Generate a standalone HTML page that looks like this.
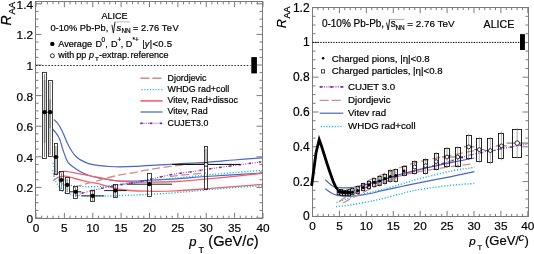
<!DOCTYPE html><html><head><meta charset="utf-8"><style>html,body{margin:0;padding:0;background:#fff;overflow:hidden}svg{display:block}text{font-family:"Liberation Sans",sans-serif} svg{will-change:transform;filter:blur(0.3px)} text{stroke:#000;stroke-width:0.2px}</style></head><body>
<svg width="534" height="254" viewBox="0 0 534 254">
<rect width="534" height="254" fill="#fff"/>
<rect x="35.5" y="1.5" width="227" height="217" fill="none" stroke="#7a7a7a" stroke-width="1"/>
<line x1="36" y1="218.5" x2="36" y2="212.8" stroke="#7a7a7a" stroke-width="1" />
<line x1="36" y1="1.5" x2="36" y2="7.2" stroke="#7a7a7a" stroke-width="1" />
<line x1="41.67" y1="218.5" x2="41.67" y2="215.7" stroke="#7a7a7a" stroke-width="1" />
<line x1="41.67" y1="1.5" x2="41.67" y2="4.3" stroke="#7a7a7a" stroke-width="1" />
<line x1="47.35" y1="218.5" x2="47.35" y2="215.7" stroke="#7a7a7a" stroke-width="1" />
<line x1="47.35" y1="1.5" x2="47.35" y2="4.3" stroke="#7a7a7a" stroke-width="1" />
<line x1="53.02" y1="218.5" x2="53.02" y2="215.7" stroke="#7a7a7a" stroke-width="1" />
<line x1="53.02" y1="1.5" x2="53.02" y2="4.3" stroke="#7a7a7a" stroke-width="1" />
<line x1="58.7" y1="218.5" x2="58.7" y2="215.7" stroke="#7a7a7a" stroke-width="1" />
<line x1="58.7" y1="1.5" x2="58.7" y2="4.3" stroke="#7a7a7a" stroke-width="1" />
<line x1="64.38" y1="218.5" x2="64.38" y2="212.8" stroke="#7a7a7a" stroke-width="1" />
<line x1="64.38" y1="1.5" x2="64.38" y2="7.2" stroke="#7a7a7a" stroke-width="1" />
<line x1="70.05" y1="218.5" x2="70.05" y2="215.7" stroke="#7a7a7a" stroke-width="1" />
<line x1="70.05" y1="1.5" x2="70.05" y2="4.3" stroke="#7a7a7a" stroke-width="1" />
<line x1="75.72" y1="218.5" x2="75.72" y2="215.7" stroke="#7a7a7a" stroke-width="1" />
<line x1="75.72" y1="1.5" x2="75.72" y2="4.3" stroke="#7a7a7a" stroke-width="1" />
<line x1="81.4" y1="218.5" x2="81.4" y2="215.7" stroke="#7a7a7a" stroke-width="1" />
<line x1="81.4" y1="1.5" x2="81.4" y2="4.3" stroke="#7a7a7a" stroke-width="1" />
<line x1="87.07" y1="218.5" x2="87.07" y2="215.7" stroke="#7a7a7a" stroke-width="1" />
<line x1="87.07" y1="1.5" x2="87.07" y2="4.3" stroke="#7a7a7a" stroke-width="1" />
<line x1="92.75" y1="218.5" x2="92.75" y2="212.8" stroke="#7a7a7a" stroke-width="1" />
<line x1="92.75" y1="1.5" x2="92.75" y2="7.2" stroke="#7a7a7a" stroke-width="1" />
<line x1="98.42" y1="218.5" x2="98.42" y2="215.7" stroke="#7a7a7a" stroke-width="1" />
<line x1="98.42" y1="1.5" x2="98.42" y2="4.3" stroke="#7a7a7a" stroke-width="1" />
<line x1="104.1" y1="218.5" x2="104.1" y2="215.7" stroke="#7a7a7a" stroke-width="1" />
<line x1="104.1" y1="1.5" x2="104.1" y2="4.3" stroke="#7a7a7a" stroke-width="1" />
<line x1="109.77" y1="218.5" x2="109.77" y2="215.7" stroke="#7a7a7a" stroke-width="1" />
<line x1="109.77" y1="1.5" x2="109.77" y2="4.3" stroke="#7a7a7a" stroke-width="1" />
<line x1="115.45" y1="218.5" x2="115.45" y2="215.7" stroke="#7a7a7a" stroke-width="1" />
<line x1="115.45" y1="1.5" x2="115.45" y2="4.3" stroke="#7a7a7a" stroke-width="1" />
<line x1="121.12" y1="218.5" x2="121.12" y2="212.8" stroke="#7a7a7a" stroke-width="1" />
<line x1="121.12" y1="1.5" x2="121.12" y2="7.2" stroke="#7a7a7a" stroke-width="1" />
<line x1="126.8" y1="218.5" x2="126.8" y2="215.7" stroke="#7a7a7a" stroke-width="1" />
<line x1="126.8" y1="1.5" x2="126.8" y2="4.3" stroke="#7a7a7a" stroke-width="1" />
<line x1="132.47" y1="218.5" x2="132.47" y2="215.7" stroke="#7a7a7a" stroke-width="1" />
<line x1="132.47" y1="1.5" x2="132.47" y2="4.3" stroke="#7a7a7a" stroke-width="1" />
<line x1="138.15" y1="218.5" x2="138.15" y2="215.7" stroke="#7a7a7a" stroke-width="1" />
<line x1="138.15" y1="1.5" x2="138.15" y2="4.3" stroke="#7a7a7a" stroke-width="1" />
<line x1="143.82" y1="218.5" x2="143.82" y2="215.7" stroke="#7a7a7a" stroke-width="1" />
<line x1="143.82" y1="1.5" x2="143.82" y2="4.3" stroke="#7a7a7a" stroke-width="1" />
<line x1="149.5" y1="218.5" x2="149.5" y2="212.8" stroke="#7a7a7a" stroke-width="1" />
<line x1="149.5" y1="1.5" x2="149.5" y2="7.2" stroke="#7a7a7a" stroke-width="1" />
<line x1="155.18" y1="218.5" x2="155.18" y2="215.7" stroke="#7a7a7a" stroke-width="1" />
<line x1="155.18" y1="1.5" x2="155.18" y2="4.3" stroke="#7a7a7a" stroke-width="1" />
<line x1="160.85" y1="218.5" x2="160.85" y2="215.7" stroke="#7a7a7a" stroke-width="1" />
<line x1="160.85" y1="1.5" x2="160.85" y2="4.3" stroke="#7a7a7a" stroke-width="1" />
<line x1="166.53" y1="218.5" x2="166.53" y2="215.7" stroke="#7a7a7a" stroke-width="1" />
<line x1="166.53" y1="1.5" x2="166.53" y2="4.3" stroke="#7a7a7a" stroke-width="1" />
<line x1="172.2" y1="218.5" x2="172.2" y2="215.7" stroke="#7a7a7a" stroke-width="1" />
<line x1="172.2" y1="1.5" x2="172.2" y2="4.3" stroke="#7a7a7a" stroke-width="1" />
<line x1="177.88" y1="218.5" x2="177.88" y2="212.8" stroke="#7a7a7a" stroke-width="1" />
<line x1="177.88" y1="1.5" x2="177.88" y2="7.2" stroke="#7a7a7a" stroke-width="1" />
<line x1="183.55" y1="218.5" x2="183.55" y2="215.7" stroke="#7a7a7a" stroke-width="1" />
<line x1="183.55" y1="1.5" x2="183.55" y2="4.3" stroke="#7a7a7a" stroke-width="1" />
<line x1="189.22" y1="218.5" x2="189.22" y2="215.7" stroke="#7a7a7a" stroke-width="1" />
<line x1="189.22" y1="1.5" x2="189.22" y2="4.3" stroke="#7a7a7a" stroke-width="1" />
<line x1="194.9" y1="218.5" x2="194.9" y2="215.7" stroke="#7a7a7a" stroke-width="1" />
<line x1="194.9" y1="1.5" x2="194.9" y2="4.3" stroke="#7a7a7a" stroke-width="1" />
<line x1="200.57" y1="218.5" x2="200.57" y2="215.7" stroke="#7a7a7a" stroke-width="1" />
<line x1="200.57" y1="1.5" x2="200.57" y2="4.3" stroke="#7a7a7a" stroke-width="1" />
<line x1="206.25" y1="218.5" x2="206.25" y2="212.8" stroke="#7a7a7a" stroke-width="1" />
<line x1="206.25" y1="1.5" x2="206.25" y2="7.2" stroke="#7a7a7a" stroke-width="1" />
<line x1="211.92" y1="218.5" x2="211.92" y2="215.7" stroke="#7a7a7a" stroke-width="1" />
<line x1="211.92" y1="1.5" x2="211.92" y2="4.3" stroke="#7a7a7a" stroke-width="1" />
<line x1="217.6" y1="218.5" x2="217.6" y2="215.7" stroke="#7a7a7a" stroke-width="1" />
<line x1="217.6" y1="1.5" x2="217.6" y2="4.3" stroke="#7a7a7a" stroke-width="1" />
<line x1="223.28" y1="218.5" x2="223.28" y2="215.7" stroke="#7a7a7a" stroke-width="1" />
<line x1="223.28" y1="1.5" x2="223.28" y2="4.3" stroke="#7a7a7a" stroke-width="1" />
<line x1="228.95" y1="218.5" x2="228.95" y2="215.7" stroke="#7a7a7a" stroke-width="1" />
<line x1="228.95" y1="1.5" x2="228.95" y2="4.3" stroke="#7a7a7a" stroke-width="1" />
<line x1="234.62" y1="218.5" x2="234.62" y2="212.8" stroke="#7a7a7a" stroke-width="1" />
<line x1="234.62" y1="1.5" x2="234.62" y2="7.2" stroke="#7a7a7a" stroke-width="1" />
<line x1="240.3" y1="218.5" x2="240.3" y2="215.7" stroke="#7a7a7a" stroke-width="1" />
<line x1="240.3" y1="1.5" x2="240.3" y2="4.3" stroke="#7a7a7a" stroke-width="1" />
<line x1="245.97" y1="218.5" x2="245.97" y2="215.7" stroke="#7a7a7a" stroke-width="1" />
<line x1="245.97" y1="1.5" x2="245.97" y2="4.3" stroke="#7a7a7a" stroke-width="1" />
<line x1="251.65" y1="218.5" x2="251.65" y2="215.7" stroke="#7a7a7a" stroke-width="1" />
<line x1="251.65" y1="1.5" x2="251.65" y2="4.3" stroke="#7a7a7a" stroke-width="1" />
<line x1="257.32" y1="218.5" x2="257.32" y2="215.7" stroke="#7a7a7a" stroke-width="1" />
<line x1="257.32" y1="1.5" x2="257.32" y2="4.3" stroke="#7a7a7a" stroke-width="1" />
<line x1="263" y1="218.5" x2="263" y2="212.8" stroke="#7a7a7a" stroke-width="1" />
<line x1="263" y1="1.5" x2="263" y2="7.2" stroke="#7a7a7a" stroke-width="1" />
<line x1="35.5" y1="218" x2="41.5" y2="218" stroke="#7a7a7a" stroke-width="1" />
<line x1="262.5" y1="218" x2="256.5" y2="218" stroke="#7a7a7a" stroke-width="1" />
<line x1="35.5" y1="210.35" x2="38.5" y2="210.35" stroke="#7a7a7a" stroke-width="1" />
<line x1="262.5" y1="210.35" x2="259.5" y2="210.35" stroke="#7a7a7a" stroke-width="1" />
<line x1="35.5" y1="202.7" x2="38.5" y2="202.7" stroke="#7a7a7a" stroke-width="1" />
<line x1="262.5" y1="202.7" x2="259.5" y2="202.7" stroke="#7a7a7a" stroke-width="1" />
<line x1="35.5" y1="195.05" x2="38.5" y2="195.05" stroke="#7a7a7a" stroke-width="1" />
<line x1="262.5" y1="195.05" x2="259.5" y2="195.05" stroke="#7a7a7a" stroke-width="1" />
<line x1="35.5" y1="187.4" x2="41.5" y2="187.4" stroke="#7a7a7a" stroke-width="1" />
<line x1="262.5" y1="187.4" x2="256.5" y2="187.4" stroke="#7a7a7a" stroke-width="1" />
<line x1="35.5" y1="179.75" x2="38.5" y2="179.75" stroke="#7a7a7a" stroke-width="1" />
<line x1="262.5" y1="179.75" x2="259.5" y2="179.75" stroke="#7a7a7a" stroke-width="1" />
<line x1="35.5" y1="172.1" x2="38.5" y2="172.1" stroke="#7a7a7a" stroke-width="1" />
<line x1="262.5" y1="172.1" x2="259.5" y2="172.1" stroke="#7a7a7a" stroke-width="1" />
<line x1="35.5" y1="164.45" x2="38.5" y2="164.45" stroke="#7a7a7a" stroke-width="1" />
<line x1="262.5" y1="164.45" x2="259.5" y2="164.45" stroke="#7a7a7a" stroke-width="1" />
<line x1="35.5" y1="156.8" x2="41.5" y2="156.8" stroke="#7a7a7a" stroke-width="1" />
<line x1="262.5" y1="156.8" x2="256.5" y2="156.8" stroke="#7a7a7a" stroke-width="1" />
<line x1="35.5" y1="149.15" x2="38.5" y2="149.15" stroke="#7a7a7a" stroke-width="1" />
<line x1="262.5" y1="149.15" x2="259.5" y2="149.15" stroke="#7a7a7a" stroke-width="1" />
<line x1="35.5" y1="141.5" x2="38.5" y2="141.5" stroke="#7a7a7a" stroke-width="1" />
<line x1="262.5" y1="141.5" x2="259.5" y2="141.5" stroke="#7a7a7a" stroke-width="1" />
<line x1="35.5" y1="133.85" x2="38.5" y2="133.85" stroke="#7a7a7a" stroke-width="1" />
<line x1="262.5" y1="133.85" x2="259.5" y2="133.85" stroke="#7a7a7a" stroke-width="1" />
<line x1="35.5" y1="126.2" x2="41.5" y2="126.2" stroke="#7a7a7a" stroke-width="1" />
<line x1="262.5" y1="126.2" x2="256.5" y2="126.2" stroke="#7a7a7a" stroke-width="1" />
<line x1="35.5" y1="118.55" x2="38.5" y2="118.55" stroke="#7a7a7a" stroke-width="1" />
<line x1="262.5" y1="118.55" x2="259.5" y2="118.55" stroke="#7a7a7a" stroke-width="1" />
<line x1="35.5" y1="110.9" x2="38.5" y2="110.9" stroke="#7a7a7a" stroke-width="1" />
<line x1="262.5" y1="110.9" x2="259.5" y2="110.9" stroke="#7a7a7a" stroke-width="1" />
<line x1="35.5" y1="103.25" x2="38.5" y2="103.25" stroke="#7a7a7a" stroke-width="1" />
<line x1="262.5" y1="103.25" x2="259.5" y2="103.25" stroke="#7a7a7a" stroke-width="1" />
<line x1="35.5" y1="95.6" x2="41.5" y2="95.6" stroke="#7a7a7a" stroke-width="1" />
<line x1="262.5" y1="95.6" x2="256.5" y2="95.6" stroke="#7a7a7a" stroke-width="1" />
<line x1="35.5" y1="87.95" x2="38.5" y2="87.95" stroke="#7a7a7a" stroke-width="1" />
<line x1="262.5" y1="87.95" x2="259.5" y2="87.95" stroke="#7a7a7a" stroke-width="1" />
<line x1="35.5" y1="80.3" x2="38.5" y2="80.3" stroke="#7a7a7a" stroke-width="1" />
<line x1="262.5" y1="80.3" x2="259.5" y2="80.3" stroke="#7a7a7a" stroke-width="1" />
<line x1="35.5" y1="72.65" x2="38.5" y2="72.65" stroke="#7a7a7a" stroke-width="1" />
<line x1="262.5" y1="72.65" x2="259.5" y2="72.65" stroke="#7a7a7a" stroke-width="1" />
<line x1="35.5" y1="65" x2="41.5" y2="65" stroke="#7a7a7a" stroke-width="1" />
<line x1="262.5" y1="65" x2="256.5" y2="65" stroke="#7a7a7a" stroke-width="1" />
<line x1="35.5" y1="57.35" x2="38.5" y2="57.35" stroke="#7a7a7a" stroke-width="1" />
<line x1="262.5" y1="57.35" x2="259.5" y2="57.35" stroke="#7a7a7a" stroke-width="1" />
<line x1="35.5" y1="49.7" x2="38.5" y2="49.7" stroke="#7a7a7a" stroke-width="1" />
<line x1="262.5" y1="49.7" x2="259.5" y2="49.7" stroke="#7a7a7a" stroke-width="1" />
<line x1="35.5" y1="42.05" x2="38.5" y2="42.05" stroke="#7a7a7a" stroke-width="1" />
<line x1="262.5" y1="42.05" x2="259.5" y2="42.05" stroke="#7a7a7a" stroke-width="1" />
<line x1="35.5" y1="34.4" x2="41.5" y2="34.4" stroke="#7a7a7a" stroke-width="1" />
<line x1="262.5" y1="34.4" x2="256.5" y2="34.4" stroke="#7a7a7a" stroke-width="1" />
<line x1="35.5" y1="26.75" x2="38.5" y2="26.75" stroke="#7a7a7a" stroke-width="1" />
<line x1="262.5" y1="26.75" x2="259.5" y2="26.75" stroke="#7a7a7a" stroke-width="1" />
<line x1="35.5" y1="19.1" x2="38.5" y2="19.1" stroke="#7a7a7a" stroke-width="1" />
<line x1="262.5" y1="19.1" x2="259.5" y2="19.1" stroke="#7a7a7a" stroke-width="1" />
<line x1="35.5" y1="11.45" x2="38.5" y2="11.45" stroke="#7a7a7a" stroke-width="1" />
<line x1="262.5" y1="11.45" x2="259.5" y2="11.45" stroke="#7a7a7a" stroke-width="1" />
<line x1="35.5" y1="3.8" x2="41.5" y2="3.8" stroke="#7a7a7a" stroke-width="1" />
<line x1="262.5" y1="3.8" x2="256.5" y2="3.8" stroke="#7a7a7a" stroke-width="1" />
<text x="33" y="222.9" font-size="11.8" text-anchor="end" fill="#000" >0</text>
<text x="33" y="192.3" font-size="11.8" text-anchor="end" fill="#000" >0.2</text>
<text x="33" y="161.7" font-size="11.8" text-anchor="end" fill="#000" >0.4</text>
<text x="33" y="131.1" font-size="11.8" text-anchor="end" fill="#000" >0.6</text>
<text x="33" y="100.5" font-size="11.8" text-anchor="end" fill="#000" >0.8</text>
<text x="33" y="69.9" font-size="11.8" text-anchor="end" fill="#000" >1</text>
<text x="33" y="39.3" font-size="11.8" text-anchor="end" fill="#000" >1.2</text>
<text x="33" y="8.7" font-size="11.8" text-anchor="end" fill="#000" >1.4</text>
<text x="36" y="231.6" font-size="11.8" text-anchor="middle" fill="#000" >0</text>
<text x="64.38" y="231.6" font-size="11.8" text-anchor="middle" fill="#000" >5</text>
<text x="92.75" y="231.6" font-size="11.8" text-anchor="middle" fill="#000" >10</text>
<text x="121.12" y="231.6" font-size="11.8" text-anchor="middle" fill="#000" >15</text>
<text x="149.5" y="231.6" font-size="11.8" text-anchor="middle" fill="#000" >20</text>
<text x="177.88" y="231.6" font-size="11.8" text-anchor="middle" fill="#000" >25</text>
<text x="206.25" y="231.6" font-size="11.8" text-anchor="middle" fill="#000" >30</text>
<text x="234.62" y="231.6" font-size="11.8" text-anchor="middle" fill="#000" >35</text>
<text x="263" y="231.6" font-size="11.8" text-anchor="middle" fill="#000" >40</text>
<text transform="translate(10.7,25.6) rotate(-90)" font-size="14" font-style="italic">R</text>
<text transform="translate(15.0,14.6) rotate(-90)" font-size="9.6">AA</text>
<text x="189.2" y="245.6" font-size="13" font-style="italic">p</text>
<text x="198.4" y="252.6" font-size="9">T</text>
<text x="208.3" y="246.0" font-size="14.6">(GeV/<tspan font-style="italic">c</tspan>)</text>
<line x1="36.0" y1="65.5" x2="250.5" y2="65.5" stroke="#000" stroke-width="1" stroke-dasharray="1.5,1.6" opacity="0.85"/>
<rect x="251.3" y="57.1" width="5.6" height="16.3" fill="#000"/>
<text x="101.4" y="19.2" font-size="9.0" text-anchor="start" fill="#000" >ALICE</text>
<text x="50.4" y="30.6" font-size="9.3" text-anchor="start" fill="#000" >0-10% Pb-Pb,</text>
<path d="M111.9,24.8 L113.4,33.1 L115.0,21.9" fill="none" stroke="#222" stroke-width="1.0"/>
<path d="M115.0,21.9 L130.1,21.9" fill="none" stroke="#999" stroke-width="0.7"/>
<text x="116.6" y="30.6" font-size="9.5" text-anchor="start" fill="#000" font-style="italic">s</text>
<text x="121.4" y="33.4" font-size="6.4" text-anchor="start" fill="#000" >NN</text>
<text x="133" y="30.6" font-size="9.3" text-anchor="start" fill="#000" >= 2.76 <tspan letter-spacing="0.45">TeV</tspan></text>
<circle cx="52.3" cy="43.9" r="2.2" fill="#000"/>
<circle cx="52.4" cy="55.8" r="2.0" fill="#fff" stroke="#000" stroke-width="0.8"/>
<text x="58.3" y="46.6" font-size="9.1" text-anchor="start" fill="#000" >Average</text>
<text x="95.5" y="46.6" font-size="9.1" text-anchor="start" fill="#000" >D</text>
<text x="101.6" y="41.6" font-size="6.4" text-anchor="start" fill="#000" >0</text>
<text x="105.2" y="46.6" font-size="9.1" text-anchor="start" fill="#000" >,</text>
<text x="110.9" y="46.6" font-size="9.1" text-anchor="start" fill="#000" >D</text>
<text x="117.4" y="41.6" font-size="6.4" text-anchor="start" fill="#000" >+</text>
<text x="120.8" y="46.6" font-size="9.1" text-anchor="start" fill="#000" >,</text>
<text x="125.7" y="46.6" font-size="9.1" text-anchor="start" fill="#000" >D</text>
<text x="132.6" y="41.8" font-size="6.4" text-anchor="start" fill="#000" >*+</text>
<text x="142.3" y="46.6" font-size="9.1" text-anchor="start" fill="#000" >|<tspan font-style="italic">y</tspan><tspan dx="0.6">|</tspan><tspan dx="0.2" letter-spacing="0.3" font-size="9.5">&lt;0.5</tspan></text>
<text x="58.3" y="58.2" font-size="9.0" text-anchor="start" fill="#000" >with</text>
<text x="76.3" y="58.2" font-size="9.0" text-anchor="start" fill="#000" >pp</text>
<text x="89" y="58.2" font-size="9.0" text-anchor="start" fill="#000" font-style="italic">p</text>
<text x="94.9" y="61.3" font-size="6.2" text-anchor="start" fill="#000" >T</text>
<text x="99.1" y="58.2" font-size="9.0" text-anchor="start" fill="#000" >-extrap.</text>
<text x="130.6" y="58.2" font-size="9.0" text-anchor="start" fill="#000" >reference</text>
<line x1="140.4" y1="78.3" x2="162.6" y2="78.3" stroke="#d08a8a" stroke-width="1.4" stroke-dasharray="9,3"/>
<line x1="141.5" y1="89.6" x2="162.6" y2="89.6" stroke="#2ab8d8" stroke-width="1.4" stroke-dasharray="1.2,1.6"/>
<line x1="140.4" y1="100.9" x2="162.6" y2="100.9" stroke="#f2606a" stroke-width="1.6" />
<line x1="140.4" y1="112" x2="162.6" y2="112" stroke="#4a66c2" stroke-width="1.2" />
<line x1="143.5" y1="123.3" x2="150" y2="123.3" stroke="#8a2aa8" stroke-width="1.1" stroke-dasharray="1,1.3"/>
<line x1="152.5" y1="123.3" x2="158.5" y2="123.3" stroke="#8a2aa8" stroke-width="0.7" opacity="0.6"/>
<rect x="140.2" y="122.4" width="2.6" height="1.8" fill="#8a2aa8"/>
<rect x="149.7" y="122.4" width="2.6" height="1.8" fill="#8a2aa8"/>
<rect x="159.6" y="122.4" width="2.6" height="1.8" fill="#8a2aa8"/>
<text x="167.6" y="80.8" font-size="8.85" text-anchor="start" fill="#000" >Djordjevic</text>
<text x="167.6" y="91.9" font-size="8.85" text-anchor="start" fill="#000" >WHDG rad+coll</text>
<text x="167.6" y="103" font-size="8.85" text-anchor="start" fill="#000" >Vitev, Rad+dissoc</text>
<text x="167.6" y="114.2" font-size="8.85" text-anchor="start" fill="#000" >Vitev, Rad</text>
<text x="167.6" y="125.5" font-size="8.85" text-anchor="start" fill="#000" >CUJET3.0</text>
<path d="M54,119.5 C54.42,119.92 55.57,120.87 56.5,122 C57.43,123.13 58.43,124.3 59.6,126.3 C60.77,128.3 62.18,131.12 63.5,134 C64.82,136.88 66.08,140.68 67.5,143.6 C68.92,146.52 70.58,149.35 72,151.5 C73.42,153.65 74.67,155.15 76,156.5 C77.33,157.85 77.77,158.37 80,159.6 C82.23,160.83 86.07,162.9 89.4,163.9 C92.73,164.9 96.57,165.17 100,165.6 C103.43,166.03 106.67,166.3 110,166.5 C113.33,166.7 115.83,166.82 120,166.8 C124.17,166.78 130.67,166.58 135,166.4 C139.33,166.22 139.17,166.1 146,165.7 C152.83,165.3 166,164.57 176,164 C186,163.43 196.33,162.97 206,162.3 C215.67,161.63 224.67,160.75 234,160 C243.33,159.25 257.33,158.17 262,157.8" fill="none" stroke="#4a66c2" stroke-width="1.2" />
<path d="M52.4,129 C53,129.67 54.8,131.33 56,133 C57.2,134.67 58.43,136.17 59.6,139 C60.77,141.83 61.82,146.5 63,150 C64.18,153.5 65.53,157.58 66.7,160 C67.87,162.42 68.68,163.18 70,164.5 C71.32,165.82 72.52,166.52 74.6,167.9 C76.68,169.28 79.72,171.42 82.5,172.8 C85.28,174.18 88.38,175.3 91.3,176.2 C94.22,177.1 96.88,177.57 100,178.2 C103.12,178.83 106.57,179.53 110,180 C113.43,180.47 116.43,180.83 120.6,181 C124.77,181.17 130.77,181.1 135,181 C139.23,180.9 139.17,180.77 146,180.4 C152.83,180.03 166,179.45 176,178.8 C186,178.15 191.67,177.47 206,176.5 C220.33,175.53 252.67,173.58 262,173" fill="none" stroke="#4a66c2" stroke-width="1.2" />
<path d="M53.3,175.5 C53.75,175.17 54.92,174.03 56,173.5 C57.08,172.97 58.33,172.67 59.8,172.3 C61.27,171.93 62.33,171.22 64.8,171.3 C67.27,171.38 70.5,172.07 74.6,172.8 C78.7,173.53 85.17,174.88 89.4,175.7 C93.63,176.52 94.9,176.77 100,177.7 C105.1,178.63 112.33,180.55 120,181.3 C127.67,182.05 136.67,182.17 146,182.2 C155.33,182.23 164.67,182.13 176,181.5 C187.33,180.87 199.67,179.75 214,178.4 C228.33,177.05 254,174.23 262,173.4" fill="none" stroke="#f2606a" stroke-width="1.3" />
<path d="M53,180.7 C53.82,180.2 55.93,178.45 57.9,177.7 C59.87,176.95 62.02,176.07 64.8,176.2 C67.58,176.33 70.5,177.52 74.6,178.5 C78.7,179.48 85.17,181.17 89.4,182.1 C93.63,183.03 94.9,182.87 100,184.1 C105.1,185.33 112.33,188.32 120,189.5 C127.67,190.68 136.67,190.98 146,191.2 C155.33,191.42 164.67,191.3 176,190.8 C187.33,190.3 199.67,189.28 214,188.2 C228.33,187.12 254,184.95 262,184.3" fill="none" stroke="#f2606a" stroke-width="1.3" />
<path d="M52.9,163 C53.25,164.17 54.15,167.5 55,170 C55.85,172.5 56.83,175.75 58,178 C59.17,180.25 60.07,182.28 62,183.5 C63.93,184.72 66.37,184.8 69.6,185.3 C72.83,185.8 77.17,186.27 81.4,186.5 C85.63,186.73 90.23,186.87 95,186.7 C99.77,186.53 104.17,186.07 110,185.5 C115.83,184.93 120,184.43 130,183.3 C140,182.17 156,180.2 170,178.7 C184,177.2 198.67,175.68 214,174.3 C229.33,172.92 254,171.05 262,170.4" fill="none" stroke="#2ab8d8" stroke-width="1.4" stroke-dasharray="1.2,1.7" />
<path d="M52.5,170 C52.9,171.57 54.12,177.07 54.9,179.4 C55.68,181.73 56.32,182.48 57.2,184 C58.08,185.52 59.07,187.17 60.2,188.5 C61.33,189.83 62.43,191.05 64,192 C65.57,192.95 67.48,193.63 69.6,194.2 C71.72,194.77 71.63,195.1 76.7,195.4 C81.77,195.7 92.78,195.97 100,196 C107.22,196.03 108.33,196.07 120,195.6 C131.67,195.13 154.33,194.27 170,193.2 C185.67,192.13 198.67,190.45 214,189.2 C229.33,187.95 254,186.28 262,185.7" fill="none" stroke="#2ab8d8" stroke-width="1.4" stroke-dasharray="1.2,1.7" />
<path d="M74,187.5 C75,187.17 76.33,186.55 80,185.5 C83.67,184.45 91.7,182.42 96,181.2 C100.3,179.98 101.7,179.27 105.8,178.2 C109.9,177.13 115.67,175.78 120.6,174.8 C125.53,173.82 131.17,173.07 135.4,172.3 C139.63,171.53 140.23,171.18 146,170.2 C151.77,169.22 162.67,167.37 170,166.4 C177.33,165.43 184,164.8 190,164.4 C196,164 203.33,164.07 206,164" fill="none" stroke="#d08a8a" stroke-width="1.3" stroke-dasharray="8,3.5" />
<path d="M170,176.5 C171.67,176.3 174.58,175.83 180,175.3 C185.42,174.77 198.17,173.68 202.5,173.3 C206.83,172.92 205.42,173.05 206,173" fill="none" stroke="#d08a8a" stroke-width="1.3" stroke-dasharray="8,3.5" />
<path d="M79.8,193.7 C83.08,192.88 92.8,190.28 99.5,188.8 C106.2,187.32 113.3,185.97 120,184.8 C126.7,183.63 131.37,183.47 139.7,181.8 C148.03,180.13 160.85,176.55 170,174.8 C179.15,173.05 187.27,172.4 194.6,171.3 C201.93,170.2 202.77,169.78 214,168.2 C225.23,166.62 254,162.87 262,161.8" fill="none" stroke="#8a2aa8" stroke-width="1.1" stroke-dasharray="0.9,1.5" />
<rect x="81.61" y="192.18" width="2.2" height="1.6" fill="#8a2aa8"/>
<rect x="91.32" y="189.76" width="2.2" height="1.6" fill="#8a2aa8"/>
<rect x="101.05" y="187.48" width="2.2" height="1.6" fill="#8a2aa8"/>
<rect x="110.86" y="185.57" width="2.2" height="1.6" fill="#8a2aa8"/>
<rect x="120.69" y="183.73" width="2.2" height="1.6" fill="#8a2aa8"/>
<rect x="130.58" y="182.22" width="2.2" height="1.6" fill="#8a2aa8"/>
<rect x="140.44" y="180.58" width="2.2" height="1.6" fill="#8a2aa8"/>
<rect x="150.18" y="178.32" width="2.2" height="1.6" fill="#8a2aa8"/>
<rect x="159.92" y="176.07" width="2.2" height="1.6" fill="#8a2aa8"/>
<rect x="169.68" y="173.89" width="2.2" height="1.6" fill="#8a2aa8"/>
<rect x="179.58" y="172.48" width="2.2" height="1.6" fill="#8a2aa8"/>
<rect x="189.48" y="171.07" width="2.2" height="1.6" fill="#8a2aa8"/>
<rect x="199.37" y="169.56" width="2.2" height="1.6" fill="#8a2aa8"/>
<rect x="209.24" y="167.98" width="2.2" height="1.6" fill="#8a2aa8"/>
<rect x="219.14" y="166.57" width="2.2" height="1.6" fill="#8a2aa8"/>
<rect x="229.05" y="165.25" width="2.2" height="1.6" fill="#8a2aa8"/>
<rect x="238.96" y="163.92" width="2.2" height="1.6" fill="#8a2aa8"/>
<rect x="248.88" y="162.6" width="2.2" height="1.6" fill="#8a2aa8"/>
<rect x="258.79" y="161.28" width="2.2" height="1.6" fill="#8a2aa8"/>
<rect x="43.6" y="80" width="2.0" height="63" fill="#c4c4c4"/>
<rect x="42.5" y="72.5" width="4" height="86" fill="none" stroke="#222" stroke-width="0.85"/>
<line x1="44.6" y1="74" x2="44.6" y2="157" stroke="#444" stroke-width="0.7" />
<line x1="42" y1="112.2" x2="47.35" y2="112.2" stroke="#222" stroke-width="1.0" />
<circle cx="44.6" cy="112.2" r="2.1" fill="#000"/>
<rect x="49.1" y="99.5" width="2.0" height="28.5" fill="#c4c4c4"/>
<rect x="48.5" y="80.5" width="4" height="76" fill="none" stroke="#222" stroke-width="0.85"/>
<line x1="50.1" y1="82" x2="50.1" y2="155" stroke="#444" stroke-width="0.7" />
<line x1="47.35" y1="112.2" x2="52.6" y2="112.2" stroke="#222" stroke-width="1.0" />
<circle cx="50.1" cy="112.2" r="2.1" fill="#000"/>
<rect x="54.5" y="143.5" width="3" height="31" fill="none" stroke="#222" stroke-width="0.85"/>
<line x1="55.9" y1="146" x2="55.9" y2="172" stroke="#444" stroke-width="0.7" />
<line x1="53" y1="157" x2="58.7" y2="157" stroke="#222" stroke-width="1.0" />
<circle cx="55.9" cy="157" r="2.1" fill="#000"/>
<rect x="59.5" y="171.5" width="4" height="19" fill="none" stroke="#222" stroke-width="0.85"/>
<line x1="61.4" y1="173" x2="61.4" y2="189" stroke="#444" stroke-width="0.7" />
<line x1="58.7" y1="180" x2="64.4" y2="180" stroke="#222" stroke-width="1.0" />
<circle cx="61.4" cy="180" r="2.1" fill="#000"/>
<rect x="65.5" y="177.5" width="4" height="16" fill="none" stroke="#222" stroke-width="0.85"/>
<line x1="67.2" y1="179" x2="67.2" y2="192" stroke="#444" stroke-width="0.7" />
<line x1="64.4" y1="184.9" x2="70.05" y2="184.9" stroke="#222" stroke-width="1.0" />
<circle cx="67.2" cy="184.9" r="2.1" fill="#000"/>
<rect x="73.5" y="186.5" width="4" height="12" fill="none" stroke="#222" stroke-width="0.85"/>
<line x1="75.7" y1="188" x2="75.7" y2="197" stroke="#444" stroke-width="0.7" />
<line x1="70.05" y1="191.8" x2="81.4" y2="191.8" stroke="#222" stroke-width="1.0" />
<circle cx="75.7" cy="191.8" r="2.1" fill="#000"/>
<rect x="90.5" y="190.5" width="4" height="11" fill="none" stroke="#222" stroke-width="0.85"/>
<line x1="92.7" y1="191" x2="92.7" y2="201" stroke="#444" stroke-width="0.7" />
<line x1="81.4" y1="195.9" x2="104.1" y2="195.9" stroke="#222" stroke-width="1.0" />
<circle cx="92.7" cy="195.9" r="2.1" fill="#000"/>
<rect x="113.5" y="184.5" width="4" height="13" fill="none" stroke="#222" stroke-width="0.85"/>
<line x1="115.3" y1="185" x2="115.3" y2="197" stroke="#444" stroke-width="0.7" />
<line x1="104.1" y1="190.6" x2="126.8" y2="190.6" stroke="#222" stroke-width="1.0" />
<circle cx="115.3" cy="190.6" r="2.1" fill="#000"/>
<rect x="147.5" y="173.5" width="4" height="23" fill="none" stroke="#222" stroke-width="0.85"/>
<line x1="126.8" y1="184.2" x2="172.2" y2="184.2" stroke="#222" stroke-width="1.0" />
<circle cx="149.4" cy="184.2" r="2.1" fill="#000"/>
<line x1="172.2" y1="164.4" x2="240.3" y2="164.4" stroke="#000" stroke-width="1.0" />
<rect x="205.3" y="148.5" width="1.4" height="13" fill="#a8a8a8"/>
<rect x="204.5" y="146.5" width="3" height="43" fill="none" stroke="#222" stroke-width="0.85"/>
<circle cx="206" cy="164.4" r="1.9" fill="#fff" stroke="#000" stroke-width="0.9"/>
<rect x="312.5" y="7.5" width="216" height="209" fill="none" stroke="#7a7a7a" stroke-width="1"/>
<line x1="312.5" y1="216.5" x2="312.5" y2="210.8" stroke="#7a7a7a" stroke-width="1" />
<line x1="312.5" y1="7.5" x2="312.5" y2="13.2" stroke="#7a7a7a" stroke-width="1" />
<line x1="317.88" y1="216.5" x2="317.88" y2="213.9" stroke="#7a7a7a" stroke-width="1" />
<line x1="317.88" y1="7.5" x2="317.88" y2="10.1" stroke="#7a7a7a" stroke-width="1" />
<line x1="323.27" y1="216.5" x2="323.27" y2="213.9" stroke="#7a7a7a" stroke-width="1" />
<line x1="323.27" y1="7.5" x2="323.27" y2="10.1" stroke="#7a7a7a" stroke-width="1" />
<line x1="328.65" y1="216.5" x2="328.65" y2="213.9" stroke="#7a7a7a" stroke-width="1" />
<line x1="328.65" y1="7.5" x2="328.65" y2="10.1" stroke="#7a7a7a" stroke-width="1" />
<line x1="334.03" y1="216.5" x2="334.03" y2="213.9" stroke="#7a7a7a" stroke-width="1" />
<line x1="334.03" y1="7.5" x2="334.03" y2="10.1" stroke="#7a7a7a" stroke-width="1" />
<line x1="339.42" y1="216.5" x2="339.42" y2="210.8" stroke="#7a7a7a" stroke-width="1" />
<line x1="339.42" y1="7.5" x2="339.42" y2="13.2" stroke="#7a7a7a" stroke-width="1" />
<line x1="344.8" y1="216.5" x2="344.8" y2="213.9" stroke="#7a7a7a" stroke-width="1" />
<line x1="344.8" y1="7.5" x2="344.8" y2="10.1" stroke="#7a7a7a" stroke-width="1" />
<line x1="350.18" y1="216.5" x2="350.18" y2="213.9" stroke="#7a7a7a" stroke-width="1" />
<line x1="350.18" y1="7.5" x2="350.18" y2="10.1" stroke="#7a7a7a" stroke-width="1" />
<line x1="355.56" y1="216.5" x2="355.56" y2="213.9" stroke="#7a7a7a" stroke-width="1" />
<line x1="355.56" y1="7.5" x2="355.56" y2="10.1" stroke="#7a7a7a" stroke-width="1" />
<line x1="360.95" y1="216.5" x2="360.95" y2="213.9" stroke="#7a7a7a" stroke-width="1" />
<line x1="360.95" y1="7.5" x2="360.95" y2="10.1" stroke="#7a7a7a" stroke-width="1" />
<line x1="366.33" y1="216.5" x2="366.33" y2="210.8" stroke="#7a7a7a" stroke-width="1" />
<line x1="366.33" y1="7.5" x2="366.33" y2="13.2" stroke="#7a7a7a" stroke-width="1" />
<line x1="371.71" y1="216.5" x2="371.71" y2="213.9" stroke="#7a7a7a" stroke-width="1" />
<line x1="371.71" y1="7.5" x2="371.71" y2="10.1" stroke="#7a7a7a" stroke-width="1" />
<line x1="377.1" y1="216.5" x2="377.1" y2="213.9" stroke="#7a7a7a" stroke-width="1" />
<line x1="377.1" y1="7.5" x2="377.1" y2="10.1" stroke="#7a7a7a" stroke-width="1" />
<line x1="382.48" y1="216.5" x2="382.48" y2="213.9" stroke="#7a7a7a" stroke-width="1" />
<line x1="382.48" y1="7.5" x2="382.48" y2="10.1" stroke="#7a7a7a" stroke-width="1" />
<line x1="387.86" y1="216.5" x2="387.86" y2="213.9" stroke="#7a7a7a" stroke-width="1" />
<line x1="387.86" y1="7.5" x2="387.86" y2="10.1" stroke="#7a7a7a" stroke-width="1" />
<line x1="393.25" y1="216.5" x2="393.25" y2="210.8" stroke="#7a7a7a" stroke-width="1" />
<line x1="393.25" y1="7.5" x2="393.25" y2="13.2" stroke="#7a7a7a" stroke-width="1" />
<line x1="398.63" y1="216.5" x2="398.63" y2="213.9" stroke="#7a7a7a" stroke-width="1" />
<line x1="398.63" y1="7.5" x2="398.63" y2="10.1" stroke="#7a7a7a" stroke-width="1" />
<line x1="404.01" y1="216.5" x2="404.01" y2="213.9" stroke="#7a7a7a" stroke-width="1" />
<line x1="404.01" y1="7.5" x2="404.01" y2="10.1" stroke="#7a7a7a" stroke-width="1" />
<line x1="409.39" y1="216.5" x2="409.39" y2="213.9" stroke="#7a7a7a" stroke-width="1" />
<line x1="409.39" y1="7.5" x2="409.39" y2="10.1" stroke="#7a7a7a" stroke-width="1" />
<line x1="414.78" y1="216.5" x2="414.78" y2="213.9" stroke="#7a7a7a" stroke-width="1" />
<line x1="414.78" y1="7.5" x2="414.78" y2="10.1" stroke="#7a7a7a" stroke-width="1" />
<line x1="420.16" y1="216.5" x2="420.16" y2="210.8" stroke="#7a7a7a" stroke-width="1" />
<line x1="420.16" y1="7.5" x2="420.16" y2="13.2" stroke="#7a7a7a" stroke-width="1" />
<line x1="425.54" y1="216.5" x2="425.54" y2="213.9" stroke="#7a7a7a" stroke-width="1" />
<line x1="425.54" y1="7.5" x2="425.54" y2="10.1" stroke="#7a7a7a" stroke-width="1" />
<line x1="430.93" y1="216.5" x2="430.93" y2="213.9" stroke="#7a7a7a" stroke-width="1" />
<line x1="430.93" y1="7.5" x2="430.93" y2="10.1" stroke="#7a7a7a" stroke-width="1" />
<line x1="436.31" y1="216.5" x2="436.31" y2="213.9" stroke="#7a7a7a" stroke-width="1" />
<line x1="436.31" y1="7.5" x2="436.31" y2="10.1" stroke="#7a7a7a" stroke-width="1" />
<line x1="441.69" y1="216.5" x2="441.69" y2="213.9" stroke="#7a7a7a" stroke-width="1" />
<line x1="441.69" y1="7.5" x2="441.69" y2="10.1" stroke="#7a7a7a" stroke-width="1" />
<line x1="447.07" y1="216.5" x2="447.07" y2="210.8" stroke="#7a7a7a" stroke-width="1" />
<line x1="447.07" y1="7.5" x2="447.07" y2="13.2" stroke="#7a7a7a" stroke-width="1" />
<line x1="452.46" y1="216.5" x2="452.46" y2="213.9" stroke="#7a7a7a" stroke-width="1" />
<line x1="452.46" y1="7.5" x2="452.46" y2="10.1" stroke="#7a7a7a" stroke-width="1" />
<line x1="457.84" y1="216.5" x2="457.84" y2="213.9" stroke="#7a7a7a" stroke-width="1" />
<line x1="457.84" y1="7.5" x2="457.84" y2="10.1" stroke="#7a7a7a" stroke-width="1" />
<line x1="463.22" y1="216.5" x2="463.22" y2="213.9" stroke="#7a7a7a" stroke-width="1" />
<line x1="463.22" y1="7.5" x2="463.22" y2="10.1" stroke="#7a7a7a" stroke-width="1" />
<line x1="468.61" y1="216.5" x2="468.61" y2="213.9" stroke="#7a7a7a" stroke-width="1" />
<line x1="468.61" y1="7.5" x2="468.61" y2="10.1" stroke="#7a7a7a" stroke-width="1" />
<line x1="473.99" y1="216.5" x2="473.99" y2="210.8" stroke="#7a7a7a" stroke-width="1" />
<line x1="473.99" y1="7.5" x2="473.99" y2="13.2" stroke="#7a7a7a" stroke-width="1" />
<line x1="479.37" y1="216.5" x2="479.37" y2="213.9" stroke="#7a7a7a" stroke-width="1" />
<line x1="479.37" y1="7.5" x2="479.37" y2="10.1" stroke="#7a7a7a" stroke-width="1" />
<line x1="484.76" y1="216.5" x2="484.76" y2="213.9" stroke="#7a7a7a" stroke-width="1" />
<line x1="484.76" y1="7.5" x2="484.76" y2="10.1" stroke="#7a7a7a" stroke-width="1" />
<line x1="490.14" y1="216.5" x2="490.14" y2="213.9" stroke="#7a7a7a" stroke-width="1" />
<line x1="490.14" y1="7.5" x2="490.14" y2="10.1" stroke="#7a7a7a" stroke-width="1" />
<line x1="495.52" y1="216.5" x2="495.52" y2="213.9" stroke="#7a7a7a" stroke-width="1" />
<line x1="495.52" y1="7.5" x2="495.52" y2="10.1" stroke="#7a7a7a" stroke-width="1" />
<line x1="500.9" y1="216.5" x2="500.9" y2="210.8" stroke="#7a7a7a" stroke-width="1" />
<line x1="500.9" y1="7.5" x2="500.9" y2="13.2" stroke="#7a7a7a" stroke-width="1" />
<line x1="506.29" y1="216.5" x2="506.29" y2="213.9" stroke="#7a7a7a" stroke-width="1" />
<line x1="506.29" y1="7.5" x2="506.29" y2="10.1" stroke="#7a7a7a" stroke-width="1" />
<line x1="511.67" y1="216.5" x2="511.67" y2="213.9" stroke="#7a7a7a" stroke-width="1" />
<line x1="511.67" y1="7.5" x2="511.67" y2="10.1" stroke="#7a7a7a" stroke-width="1" />
<line x1="517.05" y1="216.5" x2="517.05" y2="213.9" stroke="#7a7a7a" stroke-width="1" />
<line x1="517.05" y1="7.5" x2="517.05" y2="10.1" stroke="#7a7a7a" stroke-width="1" />
<line x1="522.44" y1="216.5" x2="522.44" y2="213.9" stroke="#7a7a7a" stroke-width="1" />
<line x1="522.44" y1="7.5" x2="522.44" y2="10.1" stroke="#7a7a7a" stroke-width="1" />
<line x1="527.82" y1="216.5" x2="527.82" y2="210.8" stroke="#7a7a7a" stroke-width="1" />
<line x1="527.82" y1="7.5" x2="527.82" y2="13.2" stroke="#7a7a7a" stroke-width="1" />
<line x1="312.5" y1="216.4" x2="318.5" y2="216.4" stroke="#7a7a7a" stroke-width="1" />
<line x1="528.5" y1="216.4" x2="522.5" y2="216.4" stroke="#7a7a7a" stroke-width="1" />
<line x1="312.5" y1="207.7" x2="315.5" y2="207.7" stroke="#7a7a7a" stroke-width="1" />
<line x1="528.5" y1="207.7" x2="525.5" y2="207.7" stroke="#7a7a7a" stroke-width="1" />
<line x1="312.5" y1="199" x2="315.5" y2="199" stroke="#7a7a7a" stroke-width="1" />
<line x1="528.5" y1="199" x2="525.5" y2="199" stroke="#7a7a7a" stroke-width="1" />
<line x1="312.5" y1="190.3" x2="315.5" y2="190.3" stroke="#7a7a7a" stroke-width="1" />
<line x1="528.5" y1="190.3" x2="525.5" y2="190.3" stroke="#7a7a7a" stroke-width="1" />
<line x1="312.5" y1="181.6" x2="318.5" y2="181.6" stroke="#7a7a7a" stroke-width="1" />
<line x1="528.5" y1="181.6" x2="522.5" y2="181.6" stroke="#7a7a7a" stroke-width="1" />
<line x1="312.5" y1="172.9" x2="315.5" y2="172.9" stroke="#7a7a7a" stroke-width="1" />
<line x1="528.5" y1="172.9" x2="525.5" y2="172.9" stroke="#7a7a7a" stroke-width="1" />
<line x1="312.5" y1="164.2" x2="315.5" y2="164.2" stroke="#7a7a7a" stroke-width="1" />
<line x1="528.5" y1="164.2" x2="525.5" y2="164.2" stroke="#7a7a7a" stroke-width="1" />
<line x1="312.5" y1="155.5" x2="315.5" y2="155.5" stroke="#7a7a7a" stroke-width="1" />
<line x1="528.5" y1="155.5" x2="525.5" y2="155.5" stroke="#7a7a7a" stroke-width="1" />
<line x1="312.5" y1="146.8" x2="318.5" y2="146.8" stroke="#7a7a7a" stroke-width="1" />
<line x1="528.5" y1="146.8" x2="522.5" y2="146.8" stroke="#7a7a7a" stroke-width="1" />
<line x1="312.5" y1="138.1" x2="315.5" y2="138.1" stroke="#7a7a7a" stroke-width="1" />
<line x1="528.5" y1="138.1" x2="525.5" y2="138.1" stroke="#7a7a7a" stroke-width="1" />
<line x1="312.5" y1="129.4" x2="315.5" y2="129.4" stroke="#7a7a7a" stroke-width="1" />
<line x1="528.5" y1="129.4" x2="525.5" y2="129.4" stroke="#7a7a7a" stroke-width="1" />
<line x1="312.5" y1="120.7" x2="315.5" y2="120.7" stroke="#7a7a7a" stroke-width="1" />
<line x1="528.5" y1="120.7" x2="525.5" y2="120.7" stroke="#7a7a7a" stroke-width="1" />
<line x1="312.5" y1="112" x2="318.5" y2="112" stroke="#7a7a7a" stroke-width="1" />
<line x1="528.5" y1="112" x2="522.5" y2="112" stroke="#7a7a7a" stroke-width="1" />
<line x1="312.5" y1="103.3" x2="315.5" y2="103.3" stroke="#7a7a7a" stroke-width="1" />
<line x1="528.5" y1="103.3" x2="525.5" y2="103.3" stroke="#7a7a7a" stroke-width="1" />
<line x1="312.5" y1="94.6" x2="315.5" y2="94.6" stroke="#7a7a7a" stroke-width="1" />
<line x1="528.5" y1="94.6" x2="525.5" y2="94.6" stroke="#7a7a7a" stroke-width="1" />
<line x1="312.5" y1="85.9" x2="315.5" y2="85.9" stroke="#7a7a7a" stroke-width="1" />
<line x1="528.5" y1="85.9" x2="525.5" y2="85.9" stroke="#7a7a7a" stroke-width="1" />
<line x1="312.5" y1="77.2" x2="318.5" y2="77.2" stroke="#7a7a7a" stroke-width="1" />
<line x1="528.5" y1="77.2" x2="522.5" y2="77.2" stroke="#7a7a7a" stroke-width="1" />
<line x1="312.5" y1="68.5" x2="315.5" y2="68.5" stroke="#7a7a7a" stroke-width="1" />
<line x1="528.5" y1="68.5" x2="525.5" y2="68.5" stroke="#7a7a7a" stroke-width="1" />
<line x1="312.5" y1="59.8" x2="315.5" y2="59.8" stroke="#7a7a7a" stroke-width="1" />
<line x1="528.5" y1="59.8" x2="525.5" y2="59.8" stroke="#7a7a7a" stroke-width="1" />
<line x1="312.5" y1="51.1" x2="315.5" y2="51.1" stroke="#7a7a7a" stroke-width="1" />
<line x1="528.5" y1="51.1" x2="525.5" y2="51.1" stroke="#7a7a7a" stroke-width="1" />
<line x1="312.5" y1="42.4" x2="318.5" y2="42.4" stroke="#7a7a7a" stroke-width="1" />
<line x1="528.5" y1="42.4" x2="522.5" y2="42.4" stroke="#7a7a7a" stroke-width="1" />
<line x1="312.5" y1="33.7" x2="315.5" y2="33.7" stroke="#7a7a7a" stroke-width="1" />
<line x1="528.5" y1="33.7" x2="525.5" y2="33.7" stroke="#7a7a7a" stroke-width="1" />
<line x1="312.5" y1="25" x2="315.5" y2="25" stroke="#7a7a7a" stroke-width="1" />
<line x1="528.5" y1="25" x2="525.5" y2="25" stroke="#7a7a7a" stroke-width="1" />
<line x1="312.5" y1="16.3" x2="315.5" y2="16.3" stroke="#7a7a7a" stroke-width="1" />
<line x1="528.5" y1="16.3" x2="525.5" y2="16.3" stroke="#7a7a7a" stroke-width="1" />
<line x1="312.5" y1="7.6" x2="318.5" y2="7.6" stroke="#7a7a7a" stroke-width="1" />
<line x1="528.5" y1="7.6" x2="522.5" y2="7.6" stroke="#7a7a7a" stroke-width="1" />
<text x="309.6" y="220.4" font-size="12.0" text-anchor="end" fill="#000" >0</text>
<text x="309.6" y="185.6" font-size="12.0" text-anchor="end" fill="#000" >0.2</text>
<text x="309.6" y="150.8" font-size="12.0" text-anchor="end" fill="#000" >0.4</text>
<text x="309.6" y="116" font-size="12.0" text-anchor="end" fill="#000" >0.6</text>
<text x="309.6" y="81.2" font-size="12.0" text-anchor="end" fill="#000" >0.8</text>
<text x="309.6" y="46.4" font-size="12.0" text-anchor="end" fill="#000" >1</text>
<text x="309.6" y="11.6" font-size="12.0" text-anchor="end" fill="#000" >1.2</text>
<text x="312.5" y="230" font-size="11.8" text-anchor="middle" fill="#000" >0</text>
<text x="339.42" y="230" font-size="11.8" text-anchor="middle" fill="#000" >5</text>
<text x="366.33" y="230" font-size="11.8" text-anchor="middle" fill="#000" >10</text>
<text x="393.25" y="230" font-size="11.8" text-anchor="middle" fill="#000" >15</text>
<text x="420.16" y="230" font-size="11.8" text-anchor="middle" fill="#000" >20</text>
<text x="447.07" y="230" font-size="11.8" text-anchor="middle" fill="#000" >25</text>
<text x="473.99" y="230" font-size="11.8" text-anchor="middle" fill="#000" >30</text>
<text x="500.9" y="230" font-size="11.8" text-anchor="middle" fill="#000" >35</text>
<text x="527.82" y="230" font-size="11.8" text-anchor="middle" fill="#000" >40</text>
<text transform="translate(285.7,28.0) rotate(-90)" font-size="12.2" font-style="italic">R</text>
<text transform="translate(290.0,18.4) rotate(-90)" font-size="9">AA</text>
<text x="469.3" y="245" font-size="11.5" font-style="italic">p</text>
<text x="477.6" y="249.6" font-size="7.6">T</text>
<text x="485.0" y="245.2" font-size="13">(GeV/</text>
<text x="518.6" y="241.0" font-size="11.5" font-style="italic">c</text>
<text x="524.6" y="245.2" font-size="13">)</text>
<line x1="312.5" y1="42.4" x2="519.5" y2="42.4" stroke="#000" stroke-width="1" stroke-dasharray="1.4,1.2"/>
<rect x="520" y="34.1" width="4.9" height="15.9" fill="#000"/>
<text x="321.9" y="27.3" font-size="10.0" text-anchor="start" fill="#000" >0-10% Pb-Pb,</text>
<path d="M386.5,22.6 L388.3,30.0 L389.6,19.4" fill="none" stroke="#222" stroke-width="1.0"/>
<path d="M389.6,19.4 L404.0,19.4" fill="none" stroke="#888" stroke-width="0.7"/>
<text x="390.8" y="27.3" font-size="10.0" text-anchor="start" fill="#000" >s</text>
<text x="395.4" y="30" font-size="6.4" text-anchor="start" fill="#000" >NN</text>
<text x="407.3" y="27.3" font-size="9.9" text-anchor="start" fill="#000" >= 2.76 TeV</text>
<text x="483.6" y="27.6" font-size="10.6" text-anchor="start" fill="#000" >ALICE</text>
<circle cx="323.1" cy="58.3" r="1.3" fill="#000"/>
<rect x="321.5" y="69.8" width="3.2" height="3.2" fill="none" stroke="#000" stroke-width="0.7"/>
<text x="331.8" y="62.1" font-size="9.7" text-anchor="start" fill="#000" >Charged pions, |η|&lt;0.8</text>
<text x="331.8" y="74.3" font-size="9.7" text-anchor="start" fill="#000" >Charged particles, |η|&lt;0.8</text>
<line x1="321.7" y1="86.9" x2="341.3" y2="86.9" stroke="#8a2aa8" stroke-width="1.1" stroke-dasharray="1,1.3"/>
<rect x="319.59999999999997" y="86.0" width="2.6" height="1.8" fill="#8a2aa8"/>
<rect x="330.2" y="86.0" width="2.6" height="1.8" fill="#8a2aa8"/>
<rect x="340.8" y="86.0" width="2.6" height="1.8" fill="#8a2aa8"/>
<line x1="319.7" y1="100.3" x2="343.3" y2="100.3" stroke="#d08a8a" stroke-width="1.3" stroke-dasharray="9,3"/>
<line x1="319.7" y1="113.2" x2="343.3" y2="113.2" stroke="#4a66c2" stroke-width="1.2" />
<line x1="320.7" y1="126.5" x2="343.3" y2="126.5" stroke="#2ab8d8" stroke-width="1.4" stroke-dasharray="1.2,1.6"/>
<text x="348" y="89.8" font-size="9.7" text-anchor="start" fill="#000" >CUJET 3.0</text>
<text x="348" y="103.1" font-size="9.7" text-anchor="start" fill="#000" >Djordjevic</text>
<text x="348" y="116" font-size="9.7" text-anchor="start" fill="#000" >Vitev rad</text>
<text x="348" y="129.3" font-size="9.7" text-anchor="start" fill="#000" >WHDG rad+coll</text>
<path d="M325.3,179.6 C326.38,180.57 329.73,184.08 331.8,185.4 C333.87,186.72 334.75,187.12 337.7,187.5 C340.65,187.88 345.57,188.03 349.5,187.7 C353.43,187.37 357.37,186.35 361.3,185.5 C365.23,184.65 369.15,183.63 373.1,182.6 C377.05,181.57 380.27,180.73 385,179.3 C389.73,177.87 395.67,175.67 401.5,174 C407.33,172.33 413.58,170.83 420,169.3 C426.42,167.77 430.93,166.68 440,164.8 C449.07,162.92 468.67,159.13 474.4,158" fill="none" stroke="#4a66c2" stroke-width="1.2" />
<path d="M325.3,188.8 C326.38,189.53 329.73,192.1 331.8,193.2 C333.87,194.3 334.75,194.88 337.7,195.4 C340.65,195.92 345.57,196.33 349.5,196.3 C353.43,196.27 357.37,195.75 361.3,195.2 C365.23,194.65 369.65,193.75 373.1,193 C376.55,192.25 377.27,191.78 382,190.7 C386.73,189.62 395.17,187.83 401.5,186.5 C407.83,185.17 411.92,184.32 420,182.7 C428.08,181.08 440.93,178.63 450,176.8 C459.07,174.97 470.33,172.55 474.4,171.7" fill="none" stroke="#4a66c2" stroke-width="1.2" />
<path d="M336.5,202.6 C337.98,202.07 342.22,200.5 345.4,199.4 C348.58,198.3 352.17,197.03 355.6,196 C359.03,194.97 361.93,194.18 366,193.2 C370.07,192.22 374.33,191.55 380,190.1 C385.67,188.65 393.8,186.3 400,184.5 C406.2,182.7 408.87,181.5 417.2,179.3 C425.53,177.1 440.47,173.3 450,171.3 C459.53,169.3 470.33,167.97 474.4,167.3" fill="none" stroke="#2ab8d8" stroke-width="1.4" stroke-dasharray="1.2,1.7" />
<path d="M336,206.6 C338.33,206.33 343.22,206.1 350,205 C356.78,203.9 368.37,201.83 376.7,200 C385.03,198.17 393.25,195.67 400,194 C406.75,192.33 408.87,191.43 417.2,190 C425.53,188.57 440.47,186.48 450,185.4 C459.53,184.32 470.33,183.82 474.4,183.5" fill="none" stroke="#2ab8d8" stroke-width="1.4" stroke-dasharray="1.2,1.7" />
<path d="M339.3,201.4 C340.58,200.5 344.38,197.9 347,196 C349.62,194.1 352.5,191.9 355,190 C357.5,188.1 359.67,186.2 362,184.6 C364.33,183 366,181.92 369,180.4 C372,178.88 374.83,177.63 380,175.5 C385.17,173.37 393.33,169.92 400,167.6 C406.67,165.28 412.33,163.48 420,161.6 C427.67,159.72 436.95,158.15 446,156.3 C455.05,154.45 469.58,151.47 474.3,150.5" fill="none" stroke="#d08a8a" stroke-width="1.3" stroke-dasharray="8,3.5" />
<path d="M343,203 C345,201.92 351,198.58 355,196.5 C359,194.42 362.83,192.5 367,190.5 C371.17,188.5 374.5,186.92 380,184.5 C385.5,182.08 393.33,178.17 400,176 C406.67,173.83 412.33,172.93 420,171.5 C427.67,170.07 436.95,168.72 446,167.4 C455.05,166.08 469.58,164.23 474.3,163.6" fill="none" stroke="#d08a8a" stroke-width="1.3" stroke-dasharray="8,3.5" />
<path d="M355,193 C359.17,191 370.83,184.5 380,181 C389.17,177.5 400,174.77 410,172 C420,169.23 430,167.23 440,164.4 C450,161.57 460,157.57 470,155 C480,152.43 490.33,150.83 500,149 C509.67,147.17 523.33,144.83 528,144" fill="none" stroke="#8a2aa8" stroke-width="1.1" stroke-dasharray="0.9,1.5" />
<rect x="356.6" y="190.9" width="2.2" height="1.6" fill="#8a2aa8"/>
<rect x="365.62" y="186.57" width="2.2" height="1.6" fill="#8a2aa8"/>
<rect x="374.64" y="182.25" width="2.2" height="1.6" fill="#8a2aa8"/>
<rect x="383.95" y="178.69" width="2.2" height="1.6" fill="#8a2aa8"/>
<rect x="393.53" y="175.81" width="2.2" height="1.6" fill="#8a2aa8"/>
<rect x="403.1" y="172.94" width="2.2" height="1.6" fill="#8a2aa8"/>
<rect x="412.73" y="170.23" width="2.2" height="1.6" fill="#8a2aa8"/>
<rect x="422.42" y="167.77" width="2.2" height="1.6" fill="#8a2aa8"/>
<rect x="432.11" y="165.32" width="2.2" height="1.6" fill="#8a2aa8"/>
<rect x="441.76" y="162.7" width="2.2" height="1.6" fill="#8a2aa8"/>
<rect x="451.31" y="159.71" width="2.2" height="1.6" fill="#8a2aa8"/>
<rect x="460.85" y="156.72" width="2.2" height="1.6" fill="#8a2aa8"/>
<rect x="470.43" y="153.89" width="2.2" height="1.6" fill="#8a2aa8"/>
<rect x="480.24" y="151.93" width="2.2" height="1.6" fill="#8a2aa8"/>
<rect x="490.04" y="149.97" width="2.2" height="1.6" fill="#8a2aa8"/>
<rect x="499.85" y="148.03" width="2.2" height="1.6" fill="#8a2aa8"/>
<rect x="509.7" y="146.27" width="2.2" height="1.6" fill="#8a2aa8"/>
<rect x="519.54" y="144.51" width="2.2" height="1.6" fill="#8a2aa8"/>
<path d="M311.6,186 L313.5,172 L316,153 L319.2,139.6 L321.5,146 L324,154 L327,163.5 L330,172.5 L333,181 L336,187.5 L339,190.6 L342,191.7 L346,192.3 L350,192.3" fill="none" stroke="#000" stroke-width="2.8" stroke-linejoin="miter"/>
<line x1="464" y1="146.9" x2="474.3" y2="146.9" stroke="#000" stroke-width="0.6" />
<line x1="495.6" y1="145.9" x2="506.7" y2="145.9" stroke="#000" stroke-width="0.6" />
<line x1="506.7" y1="143.1" x2="528" y2="143.1" stroke="#000" stroke-width="0.6" />
<line x1="474.3" y1="149.6" x2="484.3" y2="149.6" stroke="#000" stroke-width="0.6" />
<line x1="484.3" y1="150.6" x2="495.6" y2="150.6" stroke="#000" stroke-width="0.6" />
<line x1="442" y1="157" x2="452" y2="157" stroke="#000" stroke-width="0.6" />
<line x1="452" y1="157" x2="463" y2="157" stroke="#000" stroke-width="0.6" />
<rect x="337.2" y="189.5" width="2.6" height="5" fill="none" stroke="#000" stroke-width="0.85"/>
<line x1="338.5" y1="187.5" x2="338.5" y2="196" stroke="#777" stroke-width="0.6" />
<circle cx="338.5" cy="191.6" r="1.5" fill="#000"/>
<rect x="339.9" y="189.5" width="2.6" height="6" fill="none" stroke="#000" stroke-width="0.85"/>
<line x1="341.2" y1="188" x2="341.2" y2="196.7" stroke="#777" stroke-width="0.6" />
<circle cx="341.2" cy="192.2" r="1.5" fill="#000"/>
<rect x="342.6" y="190.5" width="2.6" height="5" fill="none" stroke="#000" stroke-width="0.85"/>
<line x1="343.9" y1="188.5" x2="343.9" y2="197.1" stroke="#777" stroke-width="0.6" />
<circle cx="343.9" cy="192.6" r="1.5" fill="#000"/>
<rect x="345.3" y="190.5" width="2.6" height="5" fill="none" stroke="#000" stroke-width="0.85"/>
<line x1="346.6" y1="188.5" x2="346.6" y2="197.1" stroke="#777" stroke-width="0.6" />
<circle cx="346.6" cy="192.6" r="1.5" fill="#000"/>
<rect x="348" y="189.5" width="2.6" height="6" fill="none" stroke="#000" stroke-width="0.85"/>
<line x1="349.3" y1="188.2" x2="349.3" y2="196.8" stroke="#777" stroke-width="0.6" />
<circle cx="349.3" cy="192.4" r="1.5" fill="#000"/>
<rect x="350.8" y="188.5" width="3.2" height="6" fill="none" stroke="#000" stroke-width="0.85"/>
<line x1="352.4" y1="187.3" x2="352.4" y2="195.7" stroke="#777" stroke-width="0.6" />
<circle cx="352.4" cy="192.2" r="1.5" fill="#000"/>
<rect x="356.1" y="186.5" width="3.2" height="7" fill="none" stroke="#000" stroke-width="0.85"/>
<line x1="357.7" y1="185.3" x2="357.7" y2="195" stroke="#777" stroke-width="0.6" />
<circle cx="357.7" cy="190.4" r="1.5" fill="#000"/>
<rect x="361.5" y="183.5" width="3.2" height="7" fill="none" stroke="#000" stroke-width="0.85"/>
<line x1="363.1" y1="182.3" x2="363.1" y2="192.3" stroke="#777" stroke-width="0.6" />
<circle cx="363.1" cy="187.4" r="1.5" fill="#000"/>
<rect x="367.3" y="181.5" width="3.2" height="7" fill="none" stroke="#000" stroke-width="0.85"/>
<line x1="368.9" y1="179.9" x2="368.9" y2="189.9" stroke="#777" stroke-width="0.6" />
<circle cx="368.9" cy="185.1" r="1.5" fill="#000"/>
<rect x="372.6" y="178.5" width="3.2" height="8" fill="none" stroke="#000" stroke-width="0.85"/>
<line x1="374.2" y1="176.9" x2="374.2" y2="187.9" stroke="#777" stroke-width="0.6" />
<circle cx="374.2" cy="182.3" r="1.5" fill="#000"/>
<rect x="378" y="176.5" width="3.2" height="9" fill="none" stroke="#000" stroke-width="0.85"/>
<line x1="379.6" y1="175.2" x2="379.6" y2="186.8" stroke="#777" stroke-width="0.6" />
<circle cx="379.6" cy="180.9" r="1.5" fill="#000"/>
<rect x="383.2" y="174.5" width="3.4" height="9" fill="none" stroke="#000" stroke-width="0.85"/>
<line x1="384.9" y1="172.5" x2="384.9" y2="185.4" stroke="#777" stroke-width="0.6" />
<circle cx="384.9" cy="178.6" r="1.5" fill="#000"/>
<rect x="388.6" y="170.5" width="3.4" height="11" fill="none" stroke="#000" stroke-width="0.85"/>
<line x1="390.3" y1="168.8" x2="390.3" y2="182.8" stroke="#777" stroke-width="0.6" />
<circle cx="390.3" cy="176.6" r="1.5" fill="#000"/>
<rect x="394.1" y="169.5" width="3.4" height="12" fill="none" stroke="#000" stroke-width="0.85"/>
<line x1="395.8" y1="168.3" x2="395.8" y2="182.7" stroke="#777" stroke-width="0.6" />
<circle cx="395.8" cy="175.4" r="1.5" fill="#000"/>
<rect x="402.5" y="166.5" width="4" height="9" fill="none" stroke="#000" stroke-width="0.85"/>
<line x1="404" y1="165" x2="404" y2="176.5" stroke="#777" stroke-width="0.6" />
<circle cx="404" cy="171" r="1.5" fill="#000"/>
<rect x="412.5" y="161.5" width="4" height="12" fill="none" stroke="#000" stroke-width="0.85"/>
<line x1="414.7" y1="160" x2="414.7" y2="175.2" stroke="#777" stroke-width="0.6" />
<circle cx="414.7" cy="167" r="1.9" fill="#fff" stroke="#000" stroke-width="0.8"/>
<rect x="423.5" y="159.5" width="4" height="14" fill="none" stroke="#000" stroke-width="0.85"/>
<line x1="425.6" y1="157.8" x2="425.6" y2="174.9" stroke="#777" stroke-width="0.6" />
<circle cx="425.6" cy="165.7" r="1.9" fill="#fff" stroke="#000" stroke-width="0.8"/>
<rect x="434.5" y="153.5" width="4" height="16" fill="none" stroke="#000" stroke-width="0.85"/>
<line x1="436.2" y1="151.9" x2="436.2" y2="170.9" stroke="#777" stroke-width="0.6" />
<circle cx="436.2" cy="161.6" r="1.9" fill="#fff" stroke="#000" stroke-width="0.8"/>
<rect x="444.5" y="148.5" width="5" height="18" fill="none" stroke="#000" stroke-width="0.85"/>
<line x1="447" y1="146.8" x2="447" y2="168" stroke="#777" stroke-width="0.6" />
<circle cx="447" cy="157" r="1.9" fill="#fff" stroke="#000" stroke-width="0.8"/>
<rect x="455.5" y="147.5" width="5" height="19" fill="none" stroke="#000" stroke-width="0.85"/>
<line x1="457.8" y1="146" x2="457.8" y2="168" stroke="#777" stroke-width="0.6" />
<circle cx="457.8" cy="157" r="1.9" fill="#fff" stroke="#000" stroke-width="0.8"/>
<rect x="466.5" y="135.5" width="5" height="23" fill="none" stroke="#000" stroke-width="0.85"/>
<line x1="468.7" y1="133.7" x2="468.7" y2="159.9" stroke="#777" stroke-width="0.6" />
<circle cx="468.7" cy="146.9" r="1.9" fill="#fff" stroke="#000" stroke-width="0.8"/>
<rect x="476.5" y="138.5" width="5" height="23" fill="none" stroke="#000" stroke-width="0.85"/>
<line x1="479.3" y1="137" x2="479.3" y2="163" stroke="#777" stroke-width="0.6" />
<circle cx="479.3" cy="149.6" r="1.9" fill="#fff" stroke="#000" stroke-width="0.8"/>
<rect x="487.5" y="138.5" width="5" height="24" fill="none" stroke="#000" stroke-width="0.85"/>
<line x1="490.3" y1="137" x2="490.3" y2="164.1" stroke="#777" stroke-width="0.6" />
<circle cx="490.3" cy="150.6" r="1.9" fill="#fff" stroke="#000" stroke-width="0.8"/>
<rect x="498.5" y="133.5" width="5" height="25" fill="none" stroke="#000" stroke-width="0.85"/>
<line x1="501.4" y1="131.5" x2="501.4" y2="160.4" stroke="#777" stroke-width="0.6" />
<circle cx="501.4" cy="145.9" r="1.9" fill="#fff" stroke="#000" stroke-width="0.8"/>
<rect x="512.5" y="129.5" width="9" height="28" fill="none" stroke="#000" stroke-width="0.85"/>
<line x1="517.2" y1="127.8" x2="517.2" y2="158.5" stroke="#777" stroke-width="0.6" />
<circle cx="517.2" cy="143.1" r="2.3" fill="#fff" stroke="#000" stroke-width="0.8"/>
</svg></body></html>
